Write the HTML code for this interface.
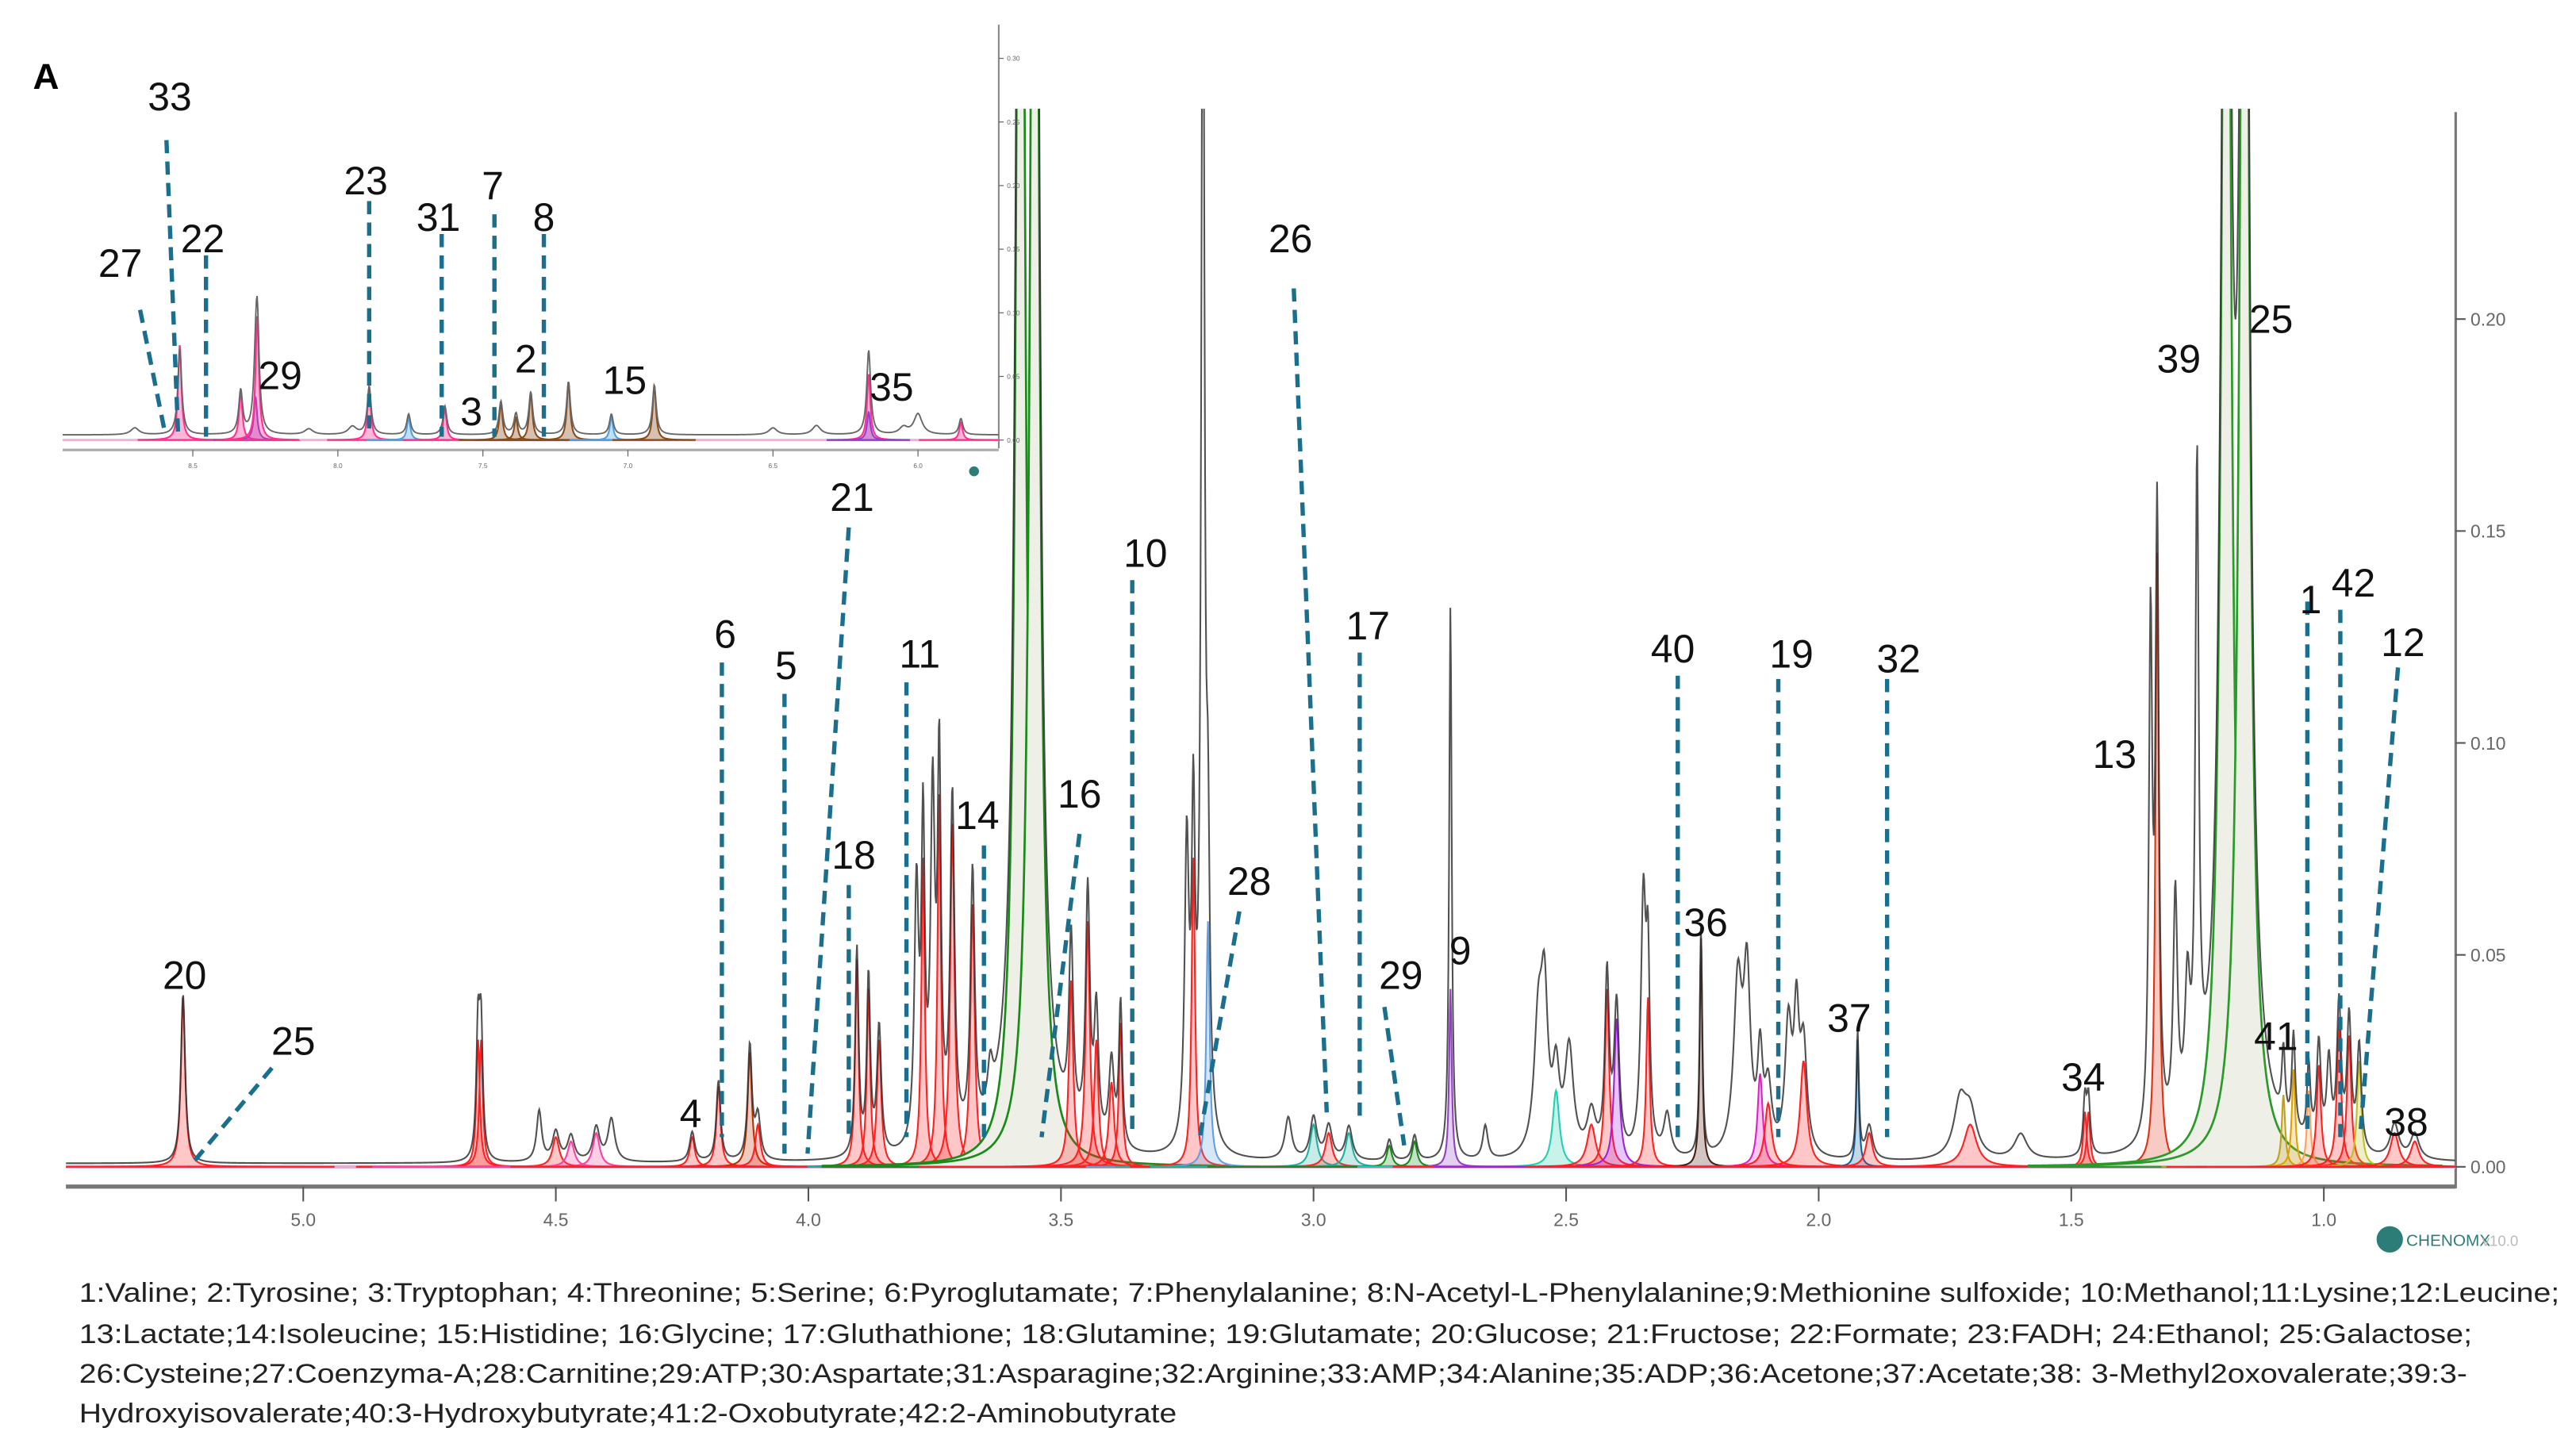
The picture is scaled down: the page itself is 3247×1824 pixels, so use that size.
<!DOCTYPE html>
<html><head><meta charset="utf-8"><style>
html,body{margin:0;padding:0;background:#fff;}
svg{display:block;}
text{font-family:"Liberation Sans",sans-serif;}
</style></head><body>
<svg id="fig" width="3247" height="1824" viewBox="0 0 1563 878" xmlns="http://www.w3.org/2000/svg">
<defs>
<clipPath id="mainClip"><rect x="40" y="66" width="1450" height="645"/></clipPath>
<clipPath id="insetClip"><rect x="38" y="15" width="568" height="255"/></clipPath>
</defs>
<rect width="1563" height="878" fill="#fff"/>
<text x="20" y="54" font-size="22" font-weight="bold">A</text>
<g id="mainPlot"></g>
<g id="insetPlot"></g>
<g id="labels"></g>
<g>
<circle cx="1450" cy="752" r="8" fill="#2c7c78"/>
<text x="1460" y="756" font-size="10" fill="#2c7c78">CHENOMX</text>
<text x="1506" y="756" font-size="9" fill="#bbb">v10.0</text>
</g>
<g font-size="16.5" fill="#222">
<text x="48" y="790" textLength="1505" lengthAdjust="spacingAndGlyphs">1:Valine; 2:Tyrosine; 3:Tryptophan; 4:Threonine; 5:Serine; 6:Pyroglutamate; 7:Phenylalanine; 8:N-Acetyl-L-Phenylalanine;9:Methionine sulfoxide; 10:Methanol;11:Lysine;12:Leucine;</text>
<text x="48" y="815" textLength="1452" lengthAdjust="spacingAndGlyphs">13:Lactate;14:Isoleucine; 15:Histidine; 16:Glycine; 17:Gluthathione; 18:Glutamine; 19:Glutamate; 20:Glucose; 21:Fructose; 22:Formate; 23:FADH; 24:Ethanol; 25:Galactose;</text>
<text x="48" y="839" textLength="1449" lengthAdjust="spacingAndGlyphs">26:Cysteine;27:Coenzyma-A;28:Carnitine;29:ATP;30:Aspartate;31:Asparagine;32:Arginine;33:AMP;34:Alanine;35:ADP;36:Acetone;37:Acetate;38:  3-Methyl2oxovalerate;39:3-</text>
<text x="48" y="863" textLength="666" lengthAdjust="spacingAndGlyphs">Hydroxyisovalerate;40:3-Hydroxybutyrate;41:2-Oxobutyrate;42:2-Aminobutyrate</text>
</g>
</svg>
<script>
// ---- main spectrum data ----
const peakPpm = [5.238,4.654,4.648,4.533,4.42,4.39,4.50,4.47,4.23,4.178,4.116,4.10,3.904,3.881,3.86,3.786,3.773,3.754,3.741,3.715,3.675,3.64,3.58,3.552,3.48,3.447,3.43,3.382,3.40,3.251,3.238,3.219,3.209,3.05,3.0,2.97,2.93,2.85,2.80,2.729,2.729,2.66,2.555,2.543,2.52,2.494,2.45,2.419,2.40,2.347,2.338,2.30,2.233,2.16,2.142,2.116,2.10,2.06,2.044,2.03,1.923,1.90,1.72,1.70,1.60,1.473,1.466,1.343,1.330,1.294,1.27,1.251,1.193,1.157,1.08,1.06,1.03,1.01,0.99,0.97,0.95,0.93,0.86,0.82];
const peakHeight = [0.040,0.030,0.030,0.012,0.008,0.010,0.007,0.006,0.007,0.019,0.027,0.010,0.049,0.042,0.030,0.060,0.073,0.080,0.088,0.081,0.062,0.010,0.45,0.45,0.044,0.058,0.030,0.034,0.020,0.070,0.073,0.30,0.058,0.010,0.010,0.008,0.008,0.005,0.006,0.089,0.042,0.008,0.030,0.034,0.018,0.025,0.010,0.042,0.035,0.060,0.040,0.010,0.054,0.040,0.040,0.022,0.015,0.030,0.030,0.025,0.030,0.008,0.013,0.010,0.006,0.013,0.013,0.12,0.145,0.055,0.030,0.15,0.42,0.42,0.017,0.023,0.018,0.024,0.020,0.034,0.031,0.025,0.008,0.006];
const peakColor = ["#ff2020","#ff2020","#ff2020","#555","#ff40a0","#555","#ff2020","#ff40a0","#ff2020","#ff2020","#b83000","#ff2020","#ff2020","#ff2020","#ff2020","#444","#ff2020","#444","#ff2020","#ff2020","#ff2020","#20b0a0","#1a8a1a","#1a8a1a","#ff2020","#ff2020","#ff2020","#ff2020","#ff2020","#444","#ff2020","#444","#60a0e0","#555","#20b0a0","#ff2020","#20b0a0","#1a8a1a","#1a8a1a","#444","#9040c0","#555","#555","#555","#20d0b0","#555","#ff2020","#ff2020","#a020e0","#444","#ff2020","#555","#4a1a10","#555","#444","#e020c0","#ff2020","#555","#444","#ff2020","#1060a0","#ff2020","#555","#ff2020","#555","#ff2020","#ff2020","#444","#e03010","#444","#555","#444","#2a9a2a","#2a9a2a","#c0a020","#e0a000","#ffa060","#ff2020","#444","#ff2020","#ff2020","#c0c020","#ff2020","#ff2020"];
const peakWidth = [0.005,0.004,0.004,0.006,0.008,0.008,0.008,0.008,0.006,0.005,0.005,0.006,0.004,0.004,0.005,0.005,0.004,0.005,0.004,0.005,0.005,0.006,0.009,0.009,0.005,0.005,0.005,0.004,0.006,0.005,0.004,0.004,0.004,0.008,0.008,0.008,0.008,0.006,0.006,0.003,0.003,0.006,0.010,0.008,0.008,0.010,0.010,0.005,0.006,0.006,0.004,0.008,0.003,0.010,0.008,0.006,0.008,0.008,0.006,0.008,0.003,0.008,0.015,0.015,0.015,0.004,0.004,0.004,0.004,0.005,0.006,0.004,0.010,0.010,0.004,0.004,0.004,0.005,0.005,0.005,0.005,0.005,0.010,0.010];
const xTicks = [5.0,4.5,4.0,3.5,3.0,2.5,2.0,1.5,1.0];
const yTicks = [0.00,0.05,0.10,0.15,0.20];
// ---- inset data ----
const insetPpm = [8.545,8.335,8.284,8.278,7.892,7.756,7.631,7.438,7.386,7.335,7.205,7.057,6.909,6.17,6.17,6.0,5.852,8.7,8.1,7.95,6.5,6.35,6.05];
const insetHeight = [0.075,0.038,0.034,0.098,0.042,0.018,0.025,0.029,0.018,0.037,0.046,0.018,0.043,0.052,0.022,0.018,0.014,0.006,0.005,0.007,0.006,0.008,0.006];
const insetColor = ["#ff3090","#ff3090","#9040d0","#ff3090","#ff3090","#50a0e0","#ff3090","#8a4a1a","#8a4a1a","#8a4a1a","#8a4a1a","#50a0e0","#8a4a1a","#ff3090","#9040d0","#666","#ff3090","#666","#666","#666","#666","#666","#666"];
const insetXTicks = [8.5,8.0,7.5,7.0,6.5,6.0];
const insetYTicks = [0.00,0.05,0.10,0.15,0.20,0.25,0.30];

const NS="http://www.w3.org/2000/svg";
function mk(tag,attrs,parent){const e=document.createElementNS(NS,tag);for(const k in attrs)e.setAttribute(k,attrs[k]);parent.appendChild(e);return e;}
const xScale=p=>184+(5-p)*306.5;
const yScale=v=>708-v*2572;
const ixScale=p=>117+(8.5-p)*176;
const iyScale=v=>267-v*772;
const lor=(x,c,h,w)=>h/(1+((x-c)/w)*((x-c)/w));

const main=document.getElementById('mainPlot');
const xa=mk('line',{x1:40,y1:720,x2:1490,y2:720,stroke:'#777','stroke-width':2.5},main);


const ya=mk('line',{x1:1490,y1:68,x2:1490,y2:721,stroke:'#777','stroke-width':1.5},main);


mk('line',{x1:40,y1:708,x2:1490,y2:708,stroke:'#e8a8d0','stroke-width':2},main);
xTicks.forEach(t=>{const x=xScale(t);
  mk('line',{x1:x,y1:720,x2:x,y2:729,stroke:'#555','stroke-width':1},main);
  const tx=mk('text',{x:x,y:744,'font-size':11,fill:'#666','text-anchor':'middle'},main);
  tx.textContent=t.toFixed(1);
  
  });
yTicks.forEach(t=>{const y=yScale(t);
  mk('line',{x1:1490,y1:y,x2:1496,y2:y,stroke:'#555','stroke-width':1},main);
  const tx=mk('text',{x:1499,y:y+4,'font-size':11,fill:'#666'},main);
  tx.textContent=t.toFixed(2);
  
  });
const gm=mk('g',{'clip-path':'url(#mainClip)'},main);
for(let i=0;i<peakPpm.length;i++){
  if(peakColor[i]==='#555'||peakColor[i]==='#444')continue;
  const c=xScale(peakPpm[i]), w=peakWidth[i]*306.5, span=Math.min(60*w,120);
  let d='M'+(c-span)+' 708';
  for(let x=c-span;x<=c+span;x+=0.4){d+=' L'+x.toFixed(2)+' '+yScale(lor(x,c,peakHeight[i],w)).toFixed(2);}
  d+=' L'+(c+span)+' 708 Z';
  const big=peakHeight[i]>0.35;
  const p=mk('path',{d:d,fill:big?'#eef0e8':peakColor[i],'fill-opacity':big?1:0.25,stroke:peakColor[i],'stroke-width':big?1.3:1},gm);
  
  
}
let dt='';
for(let x=40;x<=1490;x+=0.4){let s=0;const p=5-(x-184)/306.5;
  for(let i=0;i<peakPpm.length;i++)s+=lor(p,peakPpm[i],peakHeight[i],peakWidth[i]);
  dt+=(dt?' L':'M')+x.toFixed(2)+' '+(yScale(s)-2).toFixed(2);}
const tl=mk('path',{d:dt,fill:'none',stroke:'#333','stroke-width':1,'stroke-opacity':0.85},gm);



const ins=document.getElementById('insetPlot');
mk('rect',{x:38,y:15,width:568,height:270,fill:'#fff'},ins);
const ia=mk('line',{x1:606,y1:15,x2:606,y2:272,stroke:'#888','stroke-width':1},ins);


const ixa=mk('line',{x1:38,y1:273,x2:606,y2:273,stroke:'#aaa','stroke-width':1.5},ins);


mk('line',{x1:38,y1:267,x2:606,y2:267,stroke:'#f0b0d8','stroke-width':1.5},ins);
insetXTicks.forEach(t=>{const x=ixScale(t);
  mk('line',{x1:x,y1:273,x2:x,y2:277,stroke:'#666','stroke-width':0.6},ins);
  const tx=mk('text',{x:x,y:284,'font-size':4,fill:'#666','text-anchor':'middle'},ins);
  tx.textContent=t.toFixed(1);
  
  });
insetYTicks.forEach(t=>{const y=iyScale(t);
  mk('line',{x1:606,y1:y,x2:609,y2:y,stroke:'#666','stroke-width':0.6},ins);
  const tx=mk('text',{x:611,y:y+1.5,'font-size':4,fill:'#666'},ins);
  tx.textContent=t.toFixed(2);
  
  });
mk('circle',{cx:591,cy:286,r:3,fill:'#2c7c78'},ins);
const gi=mk('g',{'clip-path':'url(#insetClip)'},ins);
for(let i=0;i<insetPpm.length;i++){
  if(insetColor[i]==='#666')continue;
  const c=ixScale(insetPpm[i]),w=1.2;
  let d='M'+(c-25)+' 267';
  for(let x=c-25;x<=c+25;x+=0.3)d+=' L'+x.toFixed(2)+' '+iyScale(lor(x,c,insetHeight[i],w)).toFixed(2);
  d+=' L'+(c+25)+' 267 Z';
  const p=mk('path',{d:d,fill:insetColor[i],'fill-opacity':0.35,stroke:insetColor[i],'stroke-width':1},gi);
  
  
}
let di='';
for(let x=38;x<=606;x+=0.4){let s=0.004;
  for(let i=0;i<insetPpm.length;i++)s+=lor(x,ixScale(insetPpm[i]),insetHeight[i]*0.9,insetColor[i]==='#666'?3:1.4);
  di+=(di?' L':'M')+x.toFixed(2)+' '+iyScale(s).toFixed(2);}
const il=mk('path',{d:di,fill:'none',stroke:'#666','stroke-width':0.9},gi);


const labelText=["20","25","4","6","5","21","18","11","14","16","10","28","26","17","29","9","40","19","32","36","37","34","13","39","25","1","42","41","12","38","33","27","22","29","23","31","7","8","2","3","15","35"];
const labelX=[112,178,419,440,477,517,518,558,593,655,695,758,783,830,850,886,1015,1087,1152,1035,1122,1264,1283,1322,1378,1402,1428,1381,1458,1460,103,73,123,170,222,266,299,330,319,286,379,541];
const labelY=[600,640,684,393,412,310,527,405,503,490,344,543,153,388,600,585,402,405,408,568,626,662,466,226,202,372,362,637,398,689,67,168,153,236,118,140,121,140,226,258,239,243];
const lines=[[165,648,115,708],[438,402,438,690],[476,421,476,700],[515,320,490,700],[515,537,515,690],[550,414,550,690],[597,513,597,690],[655,506,632,690],[687,352,687,690],[752,553,728,690],[785,175,805,675],[825,396,825,680],[840,611,852,695],[1018,410,1018,690],[1079,412,1079,690],[1145,412,1145,690],[1400,365,1400,690],[1420,370,1420,690],[1455,405,1432,690],[101,85,108,262],[85,188,100,262],[125,155,125,265],[224,122,224,265],[268,142,268,265],[300,130,300,265],[330,142,330,265]];
const lg=document.getElementById('labels');
lines.forEach(l=>{const e=mk('line',{x1:l[0],y1:l[1],x2:l[2],y2:l[3],stroke:'#1a6e8e','stroke-width':2.6,'stroke-dasharray':'8,5'},lg);
  
  });
labelText.forEach((t,i)=>{const e=mk('text',{x:labelX[i],y:labelY[i],'font-size':24,'text-anchor':'middle',fill:'#111'},lg);
  e.textContent=t;
  
  });
</script>
</body></html>
